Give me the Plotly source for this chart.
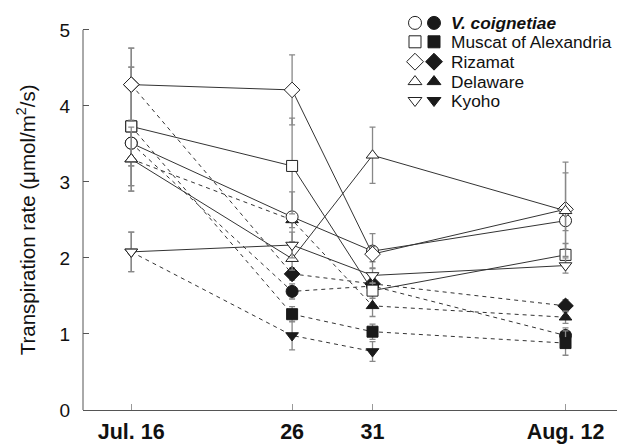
import plotly.graph_objects as go

# ---- data ----
days = [0, 10, 15, 27]
day_labels = ["Jul. 16", "26", "31", "Aug. 12"]
y_ticks = [0, 1, 2, 3, 4, 5]

cultivars = ["V. coignetiae", "Muscat of Alexandria", "Rizamat", "Delaware", "Kyoho"]
legend_labels = ["<b><i>V. coignetiae</i></b>", "Muscat of Alexandria", "Rizamat", "Delaware", "Kyoho"]

open_vcoig = [3.51, 2.54, 2.09, 2.49]
open_muscat = [3.73, 3.21, 1.57, 2.04]
open_rizamat = [4.28, 4.21, 2.05, 2.64]
open_delaware = [3.30, 1.99, 3.35, 2.62]
open_kyoho = [2.08, 2.17, 1.77, 1.90]

open_vcoig_err = [0.30, 0.33, 0.23, 0.13]
open_muscat_err = [0.78, 0.63, 0.10, 0.15]
open_rizamat_err = [0.48, 0.46, 0.10, 0.62]
open_delaware_err = [0.42, 0.15, 0.37, 0.50]
open_kyoho_err = [0.26, 0.17, 0.10, 0.10]

filled_vcoig = [3.51, 1.56, 1.63, 0.98]
filled_muscat = [3.73, 1.26, 1.03, 0.88]
filled_rizamat = [4.28, 1.79, 1.66, 1.37]
filled_delaware = [3.30, 2.50, 1.37, 1.22]
filled_kyoho = [2.08, 0.98, 0.77, None]

filled_vcoig_err = [0.30, 0.10, 0.10, 0.10]
filled_muscat_err = [0.78, 0.10, 0.10, 0.16]
filled_rizamat_err = [0.48, 0.08, 0.08, 0.08]
filled_delaware_err = [0.42, 0.10, 0.14, 0.08]
filled_kyoho_err = [0.26, 0.19, 0.13, 0]

open_series = [open_vcoig, open_muscat, open_rizamat, open_delaware, open_kyoho]
open_errs = [open_vcoig_err, open_muscat_err, open_rizamat_err, open_delaware_err, open_kyoho_err]
filled_series = [filled_vcoig, filled_muscat, filled_rizamat, filled_delaware, filled_kyoho]
filled_errs = [filled_vcoig_err, filled_muscat_err, filled_rizamat_err, filled_delaware_err, filled_kyoho_err]

# ---- styles ----
symbols = ["circle", "square", "diamond", "triangle-up", "triangle-down"]
sizes = [12, 11, 12, 11, 11]
FONT = "Liberation Sans, Arial, Helvetica, sans-serif"
LINE = "#333333"
ERR = "#888888"
Y_TOP = 5 * 412 / 382  # axis range top so that y=5 sits 30px below the top edge

fig = go.Figure()

for name, ys, es, sym, sz in zip(cultivars, filled_series, filled_errs, symbols, sizes):
    fig.add_trace(go.Scatter(
        x=days, y=ys, mode="lines+markers", name=name + " (filled)",
        line=dict(color=LINE, width=1, dash="4px,4px"),
        marker=dict(symbol=sym, size=sz, color="#1a1a1a", line=dict(color="#1a1a1a", width=1)),
        error_y=dict(type="data", array=es, color=ERR, thickness=1.3, width=3),
        showlegend=False, cliponaxis=False,
    ))

for name, ys, es, sym, sz in zip(cultivars, open_series, open_errs, symbols, sizes):
    fig.add_trace(go.Scatter(
        x=days, y=ys, mode="lines+markers", name=name,
        line=dict(color=LINE, width=1),
        marker=dict(symbol=sym, size=sz, color="white", line=dict(color="#222222", width=1)),
        error_y=dict(type="data", array=es, color=ERR, thickness=1.3, width=3),
        showlegend=False, cliponaxis=False,
    ))

# ---- custom legend on pixel-like overlay axes ----
leg_rows = [23, 42, 62, 82, 101]
leg_open_x = 415
leg_fill_x = 434
leg_text_x = 449
for lab, sym, sz, yy in zip(legend_labels, symbols, sizes, leg_rows):
    fig.add_trace(go.Scatter(
        x=[leg_open_x], y=[yy], mode="markers", xaxis="x2", yaxis="y2",
        marker=dict(symbol=sym, size=sz + 1, color="white", line=dict(color="#222222", width=1)),
        showlegend=False, cliponaxis=False, hoverinfo="skip",
    ))
    fig.add_trace(go.Scatter(
        x=[leg_fill_x], y=[yy], mode="markers", xaxis="x2", yaxis="y2",
        marker=dict(symbol=sym, size=sz + 1, color="#1a1a1a", line=dict(color="#1a1a1a", width=1)),
        showlegend=False, cliponaxis=False, hoverinfo="skip",
    ))
    fig.add_annotation(
        x=leg_text_x, y=yy, xref="x2", yref="y2", text=lab, showarrow=False,
        xanchor="left", yanchor="middle", font=dict(family=FONT, size=17.3, color="#111111"),
    )

# y axis title as an annotation centred on the 0–5 span
fig.add_annotation(
    x=-0.106, y=2.5, xref="paper", yref="y", textangle=-90, showarrow=False,
    text="Transpiration rate (μmol/m<sup>2</sup>/s)", xanchor="center", yanchor="middle",
    font=dict(family=FONT, size=20.5, color="#111111"),
)

# y axis line from 0 to 5 only
fig.add_shape(type="line", xref="paper", yref="y", x0=0, x1=0, y0=0, y1=5,
              line=dict(color="#555555", width=1))

fig.update_layout(
    width=617, height=444,
    margin=dict(l=83, r=0, t=0, b=32),
    paper_bgcolor="white", plot_bgcolor="white",
    font=dict(family=FONT, color="#111111"),
    showlegend=False,
    xaxis=dict(
        range=[-3, 30.2], tickvals=days, ticktext=["<b>" + t + "</b>" for t in day_labels],
        showline=True, linecolor="#555555", linewidth=1,
        ticks="inside", ticklen=6, tickcolor="#999999",
        showgrid=False, zeroline=False,
        tickfont=dict(family=FONT, size=21.5, color="#111111"),
        ticklabelstandoff=2,
    ),
    yaxis=dict(
        range=[0, Y_TOP], tickvals=y_ticks,
        showline=False,
        ticks="inside", ticklen=6, tickcolor="#555555",
        showgrid=False, zeroline=False,
        tickfont=dict(family=FONT, size=19, color="#111111"),
        ticklabelstandoff=12,
    ),
    xaxis2=dict(range=[83, 617], overlaying="x", anchor="y2", visible=False, fixedrange=True),
    yaxis2=dict(range=[412, 0], overlaying="y", anchor="x2", visible=False, fixedrange=True),
)

fig.write_html("out.html", config={"displayModeBar": False},
               post_script="document.body.style.margin='0';document.body.style.overflow='hidden';")
